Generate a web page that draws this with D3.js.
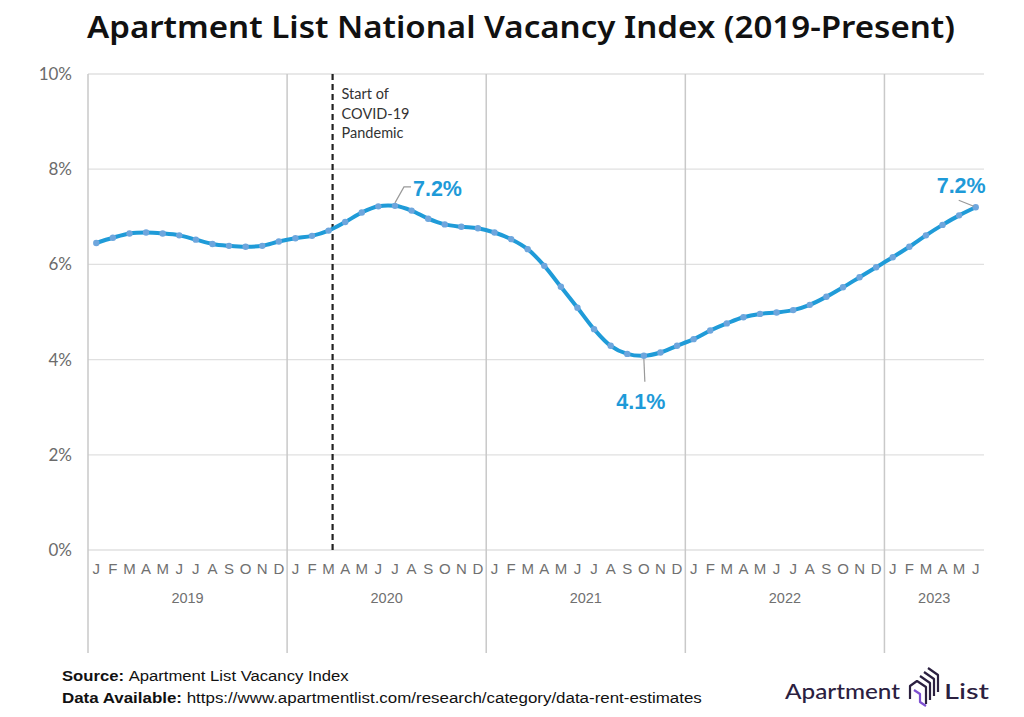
<!DOCTYPE html>
<html><head><meta charset="utf-8">
<script src="https://cdn.jsdelivr.net/npm/d3@7"></script>
<style>body{margin:0;background:#fff}svg{display:block}</style>
</head><body>
<svg id="c" width="1024" height="717"></svg>
<script>
const years = ["2019","2020","2021","2022","2023"];
const monthLetters = ["J","F","M","A","M","J","J","A","S","O","N","D"];
const vac2019 = [6.45,6.56,6.65,6.67,6.65,6.61,6.52,6.43,6.39,6.37,6.39,6.48];
const vac2020 = [6.55,6.60,6.71,6.89,7.09,7.22,7.23,7.13,6.96,6.84,6.79,6.76];
const vac2021 = [6.67,6.53,6.32,5.97,5.53,5.09,4.64,4.29,4.12,4.08,4.15,4.29];
const vac2022 = [4.43,4.61,4.76,4.89,4.96,4.99,5.04,5.15,5.32,5.52,5.73,5.94];
const vac2023 = [6.15,6.37,6.61,6.83,7.03,7.20];
const yTicks = [0,2,4,6,8,10];
const callouts = [{idx:18,text:"7.2%"},{idx:33,text:"4.1%"},{idx:53,text:"7.2%"}];
const covidIdx = 14;

const values = [].concat(vac2019,vac2020,vac2021,vac2022,vac2023);
const data = values.map((v,i)=>({i, v, m: monthLetters[i%12], yr: years[Math.floor(i/12)]}));

const svg = d3.select("#c");
const x = d3.scaleBand().domain(d3.range(values.length)).range([88,984]).padding(0);
const bw = x.bandwidth();
const cx = i => x(i) + bw/2;
const y = d3.scaleLinear().domain([0,10]).range([550,74]);

const geo = "Lato, 'Noto Sans', sans-serif";
const helv = "'Liberation Sans', Arial, sans-serif";

// title
const title = svg.append("text").attr("x",87).attr("y",38)
  .attr("font-family","'Noto Sans', Lato, sans-serif").attr("font-weight",600).attr("font-size",30).attr("fill","#111")
  .text("Apartment List National Vacancy Index (2019-Present)");
title.attr("textLength",868).attr("lengthAdjust","spacingAndGlyphs");

// horizontal gridlines
svg.append("g").selectAll("line").data(yTicks).join("line")
  .attr("x1",88).attr("x2",984).attr("y1",d=>y(d)).attr("y2",d=>y(d))
  .attr("stroke","#e0e0e0").attr("stroke-width",1.3);

// y labels
svg.append("g").selectAll("text").data(yTicks).join("text")
  .attr("x",72).attr("y",d=>y(d)+6).attr("text-anchor","end")
  .attr("font-family",geo).attr("font-size",17).attr("fill","#6b6b6b")
  .text(d=>d+"%");

// year separators (incl. left axis)
const sepIdx = years.map((_,k)=>k*12);
svg.append("g").selectAll("line").data(sepIdx).join("line")
  .attr("x1",d=>x(d)).attr("x2",d=>x(d)).attr("y1",y(10)).attr("y2",653)
  .attr("stroke","#c9c9c9").attr("stroke-width",1.5);

// month labels
svg.append("g").selectAll("text").data(data).join("text")
  .attr("x",d=>cx(d.i)).attr("y",574).attr("text-anchor","middle")
  .attr("font-family",helv).attr("font-size",15).attr("fill","#707070")
  .text(d=>d.m);

// year labels
svg.append("g").selectAll("text").data(years).join("text")
  .attr("x",(d,k)=>{const a=x(k*12); const n=Math.min(12, values.length-k*12); return a+n*bw/2;})
  .attr("y",603).attr("text-anchor","middle")
  .attr("font-family",helv).attr("font-size",14.5).attr("fill","#707070")
  .text(d=>d);

// covid dashed line
const covX = cx(covidIdx)+4;
svg.append("line").attr("x1",covX).attr("x2",covX).attr("y1",y(10)).attr("y2",y(0))
  .attr("stroke","#222").attr("stroke-width",2.2).attr("stroke-dasharray","6,4");
const cov = svg.append("text").attr("font-family",geo).attr("font-size",14.5).attr("fill","#333");
["Start of","COVID-19","Pandemic"].forEach((t,k)=>{
  cov.append("tspan").attr("x",covX+9).attr("y",99+k*19.5).text(t);
});

// line
const line = d3.line().x(d=>cx(d.i)).y(d=>y(d.v)).curve(d3.curveCatmullRom.alpha(0.5));
svg.append("path").datum(data).attr("d",line).attr("fill","none")
  .attr("stroke","#1f9bd8").attr("stroke-width",4).attr("stroke-linejoin","round");
svg.append("g").selectAll("circle").data(data).join("circle")
  .attr("cx",d=>cx(d.i)).attr("cy",d=>y(d.v)).attr("r",3.2).attr("fill","#6ea6dd");

// callouts
const lbl = (t,xx,yy,anchor) => svg.append("text").attr("x",xx).attr("y",yy).attr("text-anchor",anchor)
  .attr("font-family",helv).attr("font-weight",700).attr("font-size",21.5).attr("fill","#1e9ad8").text(t);
const leader = pts => svg.append("polyline").attr("points",pts.map(p=>p.join(",")).join(" "))
  .attr("fill","none").attr("stroke","#999").attr("stroke-width",1.2);
{
  const c=callouts[0], px=cx(c.idx), py=y(values[c.idx]);
  leader([[px,py-3],[px+9,py-19],[px+16,py-19]]);
  lbl(c.text, px+18, py-10, "start");
}
{
  const c=callouts[1], px=cx(c.idx), py=y(values[c.idx]);
  leader([[px,py+3],[px+1,py+26]]);
  lbl(c.text, px-3, py+53, "middle");
}
{
  const c=callouts[2], px=cx(c.idx), py=y(values[c.idx]);
  leader([[px-2,py-1],[px-17,py-7]]);
  lbl(c.text, px+10, py-14, "end");
}

// footer
function fitText(sel, w){ const l=sel.node().getComputedTextLength(); sel.attr("transform",`translate(${+sel.attr("x")},${+sel.attr("y")}) scale(${w/l},1) translate(${-sel.attr("x")},${-sel.attr("y")})`); }
const f1 = svg.append("text").attr("x",62).attr("y",681).attr("font-family",helv).attr("font-size",15.5).attr("fill","#111");
f1.append("tspan").attr("font-weight",700).text("Source: ");
f1.append("tspan").text("Apartment List Vacancy Index");
fitText(f1, 287);
const f2 = svg.append("text").attr("x",62).attr("y",703).attr("font-family",helv).attr("font-size",15.5).attr("fill","#111");
f2.append("tspan").attr("font-weight",700).text("Data Available: ");
f2.append("tspan").text("https://www.apartmentlist.com/research/category/data-rent-estimates");
fitText(f2, 640);

// logo
const lg = svg.append("g");
const t1 = lg.append("text").attr("x",785).attr("y",699).attr("font-family",geo).attr("font-weight",500)
  .attr("font-size",22).attr("fill","#2b2040").text("Apartment");
t1.attr("textLength",115).attr("lengthAdjust","spacingAndGlyphs");
lg.append("text").attr("x",944).attr("y",699).attr("font-family",geo).attr("font-weight",500)
  .attr("font-size",22).attr("fill","#2b2040").text("List").attr("textLength",45).attr("lengthAdjust","spacingAndGlyphs");
const ic = lg.append("g").attr("fill","none").attr("stroke","#2b2040").attr("stroke-width",2.2).attr("stroke-linejoin","round");
ic.append("path").attr("d","M910,699 L910,686 L917,681 L926,687 L926,704");
ic.append("path").attr("d","M920,676 L930,683 L930,700");
ic.append("path").attr("d","M924,672 L934,679 L934,696");
ic.append("path").attr("d","M928,668 L938,675 L938,692");
ic.append("path").attr("d","M914,690 L920,694 L920,702 L926,706").attr("stroke","#7d4fd0");
</script>
</body></html>
